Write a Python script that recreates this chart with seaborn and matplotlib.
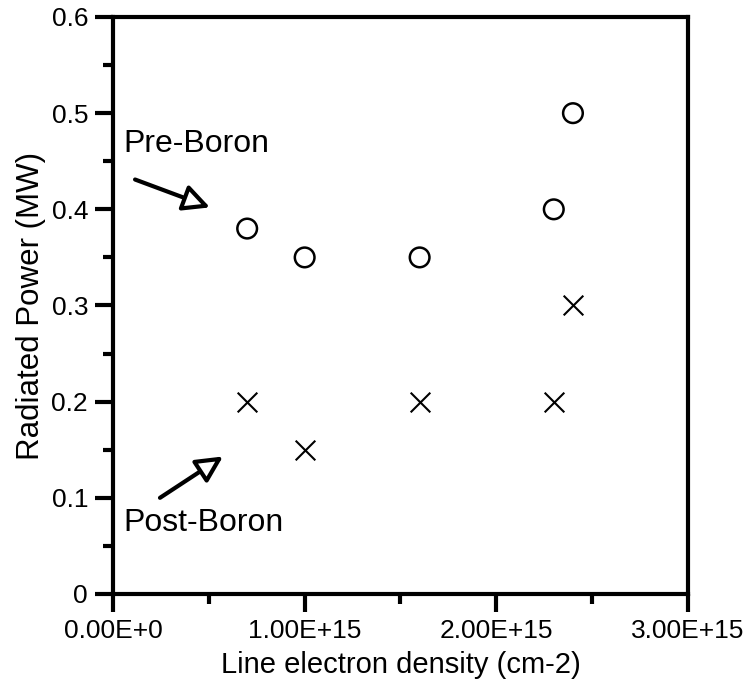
import pandas as pd
import matplotlib
matplotlib.use("Agg")
import matplotlib.pyplot as plt
import seaborn as sns
from matplotlib.ticker import MultipleLocator, FixedLocator

# data
density = [0.7e15, 1.0e15, 1.6e15, 2.3e15, 2.4e15]
pre_boron = [0.38, 0.35, 0.35, 0.40, 0.50]
post_boron = [0.20, 0.15, 0.20, 0.20, 0.30]
x_ticks = [0, 1e15, 2e15, 3e15]
x_tick_labels = ["0.00E+0", "1.00E+15", "2.00E+15", "3.00E+15"]
y_ticks = [0, 0.1, 0.2, 0.3, 0.4, 0.5, 0.6]
y_tick_labels = ["0", "0.1", "0.2", "0.3", "0.4", "0.5", "0.6"]

df = pd.DataFrame({
    "density": density * 2,
    "power": pre_boron + post_boron,
    "series": ["Pre-Boron"] * len(density) + ["Post-Boron"] * len(density),
})

sns.set_style("ticks")
plt.rcParams['font.family'] = ['Liberation Sans', 'DejaVu Sans']
plt.rcParams['axes.edgecolor'] = 'black'
plt.rcParams['text.color'] = 'black'
plt.rcParams['axes.labelcolor'] = 'black'

fig = plt.figure(figsize=(7.51, 6.91), dpi=100)
ax = fig.add_axes([0.1505, 0.1404, 0.916 - 0.1505, 0.9754 - 0.1404])

# open circles for pre-boron
sns.scatterplot(data=df[df.series == "Pre-Boron"], x="density", y="power",
                marker="o", s=200, facecolor="none", edgecolor="black",
                linewidth=1.8, ax=ax, legend=False)
# crosses for post-boron
sns.scatterplot(data=df[df.series == "Post-Boron"], x="density", y="power",
                marker="x", s=200, color="black", linewidth=1.5,
                ax=ax, legend=False)

ax.set_xlim(0, 3e15)
ax.set_ylim(0, 0.6)
ax.xaxis.set_major_locator(FixedLocator(x_ticks))
ax.set_xticklabels(x_tick_labels)
ax.xaxis.set_minor_locator(MultipleLocator(0.5e15))
ax.yaxis.set_major_locator(FixedLocator(y_ticks))
ax.set_yticklabels(y_tick_labels)
ax.yaxis.set_minor_locator(MultipleLocator(0.05))

for sp in ax.spines.values():
    sp.set_linewidth(3)
    sp.set_color("black")
    sp.set_visible(True)
ax.tick_params(which="major", direction="out", length=13, width=3,
               labelsize=19, color="black", labelcolor="black", pad=5)
ax.tick_params(which="minor", direction="out", length=7, width=3, color="black")

ax.set_xlabel("Line electron density (cm-2)", fontsize=21, labelpad=6)
ax.set_ylabel("Radiated Power (MW)", fontsize=22.5, labelpad=4)

arrow = dict(arrowstyle="-|>,head_length=0.8,head_width=0.4", lw=3,
             fc="white", ec="black", shrinkA=0, shrinkB=0, mutation_scale=20)
ax.text(0.052e15, 0.46, "Pre-Boron", fontsize=23, ha="left", va="baseline")
ax.annotate("", xy=(0.506e15, 0.402), xytext=(0.115e15, 0.431), arrowprops=arrow)
ax.text(0.052e15, 0.065, "Post-Boron", fontsize=23, ha="left", va="baseline")
ax.annotate("", xy=(0.574e15, 0.143), xytext=(0.245e15, 0.100), arrowprops=arrow)

fig.savefig("out.png", dpi=100)
